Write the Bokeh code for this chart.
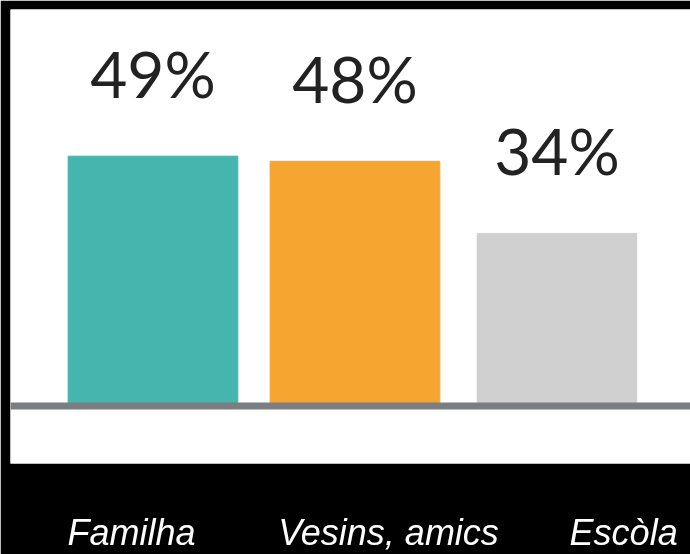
from bokeh.plotting import figure
from bokeh.models import Range1d, Span, FixedTicker, ColumnDataSource
from bokeh.core.properties import value
from bokeh.embed import file_html
from bokeh.resources import INLINE

categories = ["Familha", "Vesins, amics", "Escòla"]
values = [49, 48, 34]
value_labels = ["49%", "48%", "34%"]
colors = ["#45B5AD", "#F7A531", "#D0D0D0"]

idx = list(range(len(categories)))
bar_widths = [0.84, 0.84, 0.79]
label_shift = [-0.106, 0.166, 0.33]

src = ColumnDataSource(dict(x=idx, top=values, lab=value_labels, color=colors, w=bar_widths))

p = figure(frame_width=680, frame_height=454, output_backend="svg", toolbar_location=None,
           x_range=Range1d(-0.7054, 2.661), y_range=Range1d(-10.68, 77.48),
           y_axis_location=None, min_border_left=10, min_border_right=0,
           min_border_top=9, min_border_bottom=91)
p.styles = {"position": "fixed", "top": "0px", "left": "0px"}
p.background_fill_color = "white"
p.border_fill_color = "black"
p.outline_line_color = None
p.grid.visible = False

p.vbar(x="x", top="top", bottom=0, width="w", color="color", source=src)
p.add_layout(Span(location=0.5, dimension="width", line_color="#7A7E80", line_width=7))

p.text(x="x", y="top", text="lab", source=src, text_align="center", text_baseline="alphabetic",
       y_offset=-83, text_font=value("Lato"), text_font_size="64px", text_color="#222222")

ticks = [i + s for i, s in zip(idx, label_shift)]
p.xaxis.ticker = FixedTicker(ticks=ticks)
p.xaxis.major_label_overrides = {t: c for t, c in zip(ticks, categories)}
p.xaxis.axis_line_color = None
p.xaxis.major_tick_line_color = None
p.xaxis.minor_tick_line_color = None
p.xaxis.major_tick_out = 0
p.xaxis.major_tick_in = 0
p.xaxis.major_label_standoff = 48
p.xaxis.major_label_text_font = "Liberation Sans"
p.xaxis.major_label_text_font_style = "italic"
p.xaxis.major_label_text_font_size = "36px"
p.xaxis.major_label_text_color = "white"

open("out.html", "w").write(file_html(p, INLINE))
